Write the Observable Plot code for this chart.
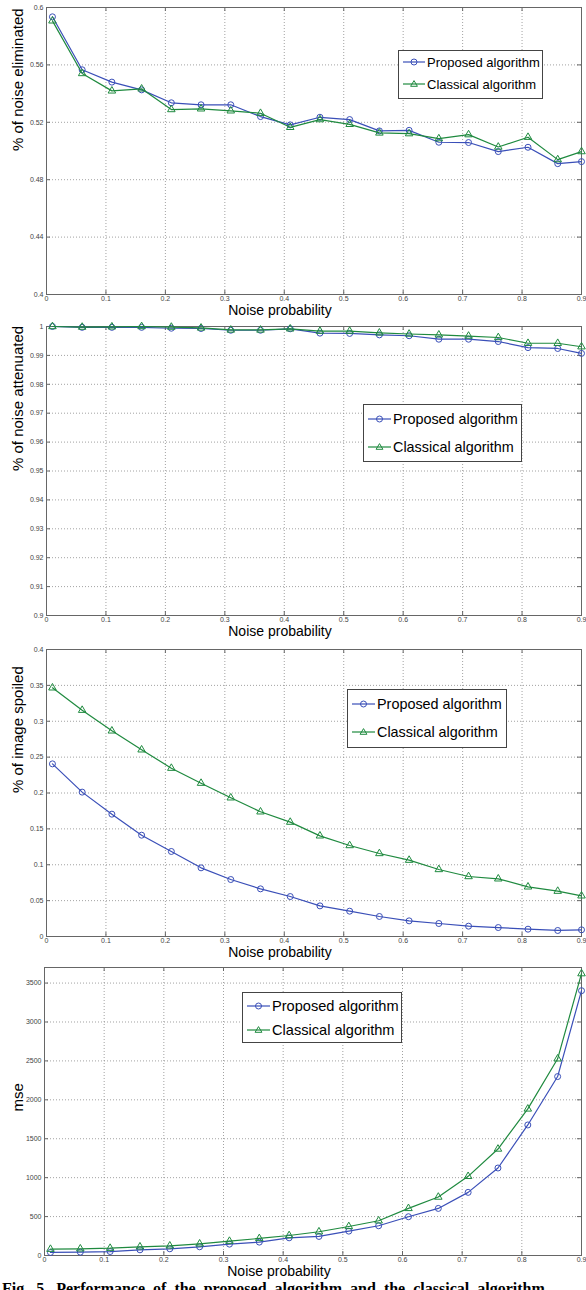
<!DOCTYPE html>
<html>
<head>
<meta charset="utf-8">
<script src="https://cdn.jsdelivr.net/npm/d3@7"></script>
<script src="https://cdn.jsdelivr.net/npm/@observablehq/plot@0.6"></script>
<style>
  html, body { margin: 0; padding: 0; background: #fff; }
  #wrap { position: relative; width: 586px; height: 1290px; overflow: hidden; font-family: "Liberation Sans", Arial, sans-serif; }
  .panel { position: absolute; left: 0; }
  .legend { position: absolute; background: #fff; border: 1px solid #444; box-sizing: border-box; }
  .legend .row { position: absolute; left: 0; display: flex; align-items: center; white-space: nowrap; color: #000; }
  .legend svg { display: block; }
  #caption { position: absolute; left: 2px; top: 1280px; width: 582px; white-space: nowrap; overflow: hidden; font-family: "Liberation Serif", "Times New Roman", serif; font-weight: bold; font-size: 16px; word-spacing: 4px; line-height: 18px; }
</style>
</head>
<body>
<div id="wrap"></div>
<script>
// ---- data ----
const noiseProb = [0.01,0.06,0.11,0.16,0.21,0.26,0.31,0.36,0.41,0.46,0.51,0.56,0.61,0.66,0.71,0.76,0.81,0.86,0.9];
const xTicks = [0,0.1,0.2,0.3,0.4,0.5,0.6,0.7,0.8,0.9];
const seriesNames = ["Proposed algorithm", "Classical algorithm"];

const elimProposed  = [0.5935,0.5566,0.5480,0.5426,0.5336,0.5322,0.5322,0.5240,0.5182,0.5235,0.5219,0.5140,0.5144,0.5061,0.5059,0.4996,0.5026,0.4912,0.4926];
const elimClassical = [0.5907,0.5540,0.5419,0.5433,0.5289,0.5294,0.5280,0.5263,0.5165,0.5219,0.5186,0.5126,0.5121,0.5086,0.5114,0.5028,0.5096,0.4940,0.4996];
const elimTicks = [0.4,0.44,0.48,0.52,0.56,0.6];

const attProposed  = [1.0000,0.9997,0.9997,0.9997,0.9994,0.9993,0.9987,0.9987,0.9992,0.9977,0.9976,0.9971,0.9968,0.9956,0.9956,0.9948,0.9927,0.9924,0.9907];
const attClassical = [1.0000,0.9998,0.9999,1.0000,0.9998,0.9995,0.9988,0.9988,0.9992,0.9984,0.9984,0.9978,0.9974,0.9971,0.9967,0.9962,0.9942,0.9942,0.9930];
const attTicks = [0.9,0.91,0.92,0.93,0.94,0.95,0.96,0.97,0.98,0.99,1];

const spoilProposed  = [0.2406,0.2012,0.1705,0.1412,0.1185,0.0957,0.0794,0.0664,0.0557,0.0427,0.0353,0.0279,0.0218,0.0181,0.0144,0.0125,0.0102,0.0084,0.0093];
const spoilClassical = [0.3466,0.3154,0.2866,0.2602,0.2346,0.2137,0.1933,0.1738,0.1594,0.1403,0.1268,0.1157,0.1064,0.0934,0.0836,0.0804,0.0692,0.0632,0.0567];
const spoilTicks = [0,0.05,0.1,0.15,0.2,0.25,0.3,0.35,0.4];

const mseProposed  = [39,43,51,73,86,112,146,172,227,245,313,382,498,605,811,1124,1677,2299,3402];
const mseClassical = [81,86,94,112,124,150,184,219,257,305,373,446,605,751,1017,1368,1883,2527,3621];
const mseTicks = [0,500,1000,1500,2000,2500,3000,3500];

// ---- styling ----
const BLUE = "#3a4fb8";
const GREEN = "#1f8a3f";
const W = 586, H = 320;

function panel(cfg) {
  const {top, yDomain, yTicks, yLabel, proposed, classical, mt, mb, ml, legend} = cfg;
  const mr = 5;
  const innerH = H - mt - mb, innerW = W - ml - mr;
  const pRows = noiseProb.map((x, i) => ({x, y: proposed[i]}));
  const cRows = noiseProb.map((x, i) => ({x, y: classical[i]}));
  const grid = {stroke: "#8a8a8a", strokeOpacity: 1, strokeWidth: 0.8, strokeDasharray: "1,2"};
  const chart = Plot.plot({
    width: W, height: H,
    marginLeft: ml, marginRight: mr, marginTop: mt, marginBottom: mb,
    style: {fontFamily: "'Liberation Sans', Arial, sans-serif", background: "transparent", overflow: "visible"},
    x: {domain: [0, 0.9]},
    y: {domain: yDomain},
    marks: [
      Plot.gridX(xTicks, grid),
      Plot.gridY(yTicks, grid),
      // inward tick marks on all four sides
      Plot.ruleX(xTicks, {x: d => d, insetTop: innerH - 4, stroke: "#666"}),
      Plot.ruleX(xTicks, {x: d => d, insetBottom: innerH - 4, stroke: "#666"}),
      Plot.ruleY(yTicks, {y: d => d, insetRight: innerW - 4, stroke: "#666"}),
      Plot.ruleY(yTicks, {y: d => d, insetLeft: innerW - 4, stroke: "#666"}),
      Plot.frame({stroke: "#666"}),
      Plot.axisX(xTicks, {tickSize: 0, tickPadding: 2, fontSize: 7, fill: "#444", tickFormat: d => String(d), label: null}),
      Plot.axisY(yTicks, {tickSize: 0, tickPadding: 3, fontSize: 7, fill: "#444", tickFormat: d => String(d), label: null}),
      Plot.line(pRows, {x: "x", y: "y", stroke: BLUE, strokeWidth: 1.2}),
      Plot.dot(pRows, {x: "x", y: "y", r: 3, stroke: BLUE, fill: "none", strokeWidth: 1}),
      Plot.line(cRows, {x: "x", y: "y", stroke: GREEN, strokeWidth: 1.2}),
      Plot.dot(cRows, {x: "x", y: "y", r: 2.8, symbol: "triangle", stroke: GREEN, fill: "none", strokeWidth: 1}),
      Plot.text([yLabel], {frameAnchor: "left", dx: ml === 46 ? -28 : -26, rotate: -90, fontSize: 15, fill: "#000"}),
      Plot.text(["Noise probability"], {frameAnchor: "bottom", dx: -34, dy: 20, fontSize: 14, fill: "#000"})
    ]
  });
  const holder = document.createElement("div");
  holder.className = "panel";
  holder.style.top = top + "px";
  holder.appendChild(chart);
  document.getElementById("wrap").appendChild(holder);

  // legend box
  const lg = document.createElement("div");
  lg.className = "legend";
  Object.assign(lg.style, {left: legend.x + "px", top: legend.y + "px", width: legend.w + "px", height: legend.h + "px"});
  seriesNames.forEach((name, i) => {
    const row = document.createElement("div");
    row.className = "row";
    row.style.top = (legend.rows[i] - legend.y - 1 - 10) + "px";
    row.style.height = "20px";
    row.style.fontSize = legend.fs + "px";
    const color = i === 0 ? BLUE : GREEN;
    const sw = legend.sw;
    const sym = i === 0
      ? `<circle cx="${sw/2}" cy="10" r="3" fill="none" stroke="${color}"/>`
      : `<path d="M${sw/2},6.6L${sw/2+3.4},12.3L${sw/2-3.4},12.3Z" fill="none" stroke="${color}"/>`;
    row.innerHTML = `<svg width="${sw}" height="20" style="margin-left:4px;margin-right:2px"><line x1="0" x2="${sw}" y1="10" y2="10" stroke="${color}" stroke-width="1.2"/>${sym}</svg><span>${name}</span>`;
    lg.appendChild(row);
  });
  document.getElementById("wrap").appendChild(lg);
}

panel({top: 0, yDomain: [0.4, 0.6], yTicks: elimTicks, yLabel: "% of noise eliminated",
  proposed: elimProposed, classical: elimClassical, mt: 7, mb: 26, ml: 46,
  legend: {x: 398, y: 50, w: 145, h: 49, rows: [62, 84], fs: 13, sw: 22}});
panel({top: 320, yDomain: [0.9, 1], yTicks: attTicks, yLabel: "% of noise attenuated",
  proposed: attProposed, classical: attClassical, mt: 6, mb: 25, ml: 46,
  legend: {x: 363, y: 404, w: 159, h: 58, rows: [419, 447], fs: 14.4, sw: 23}});
panel({top: 640, yDomain: [0, 0.4], yTicks: spoilTicks, yLabel: "% of image spoiled",
  proposed: spoilProposed, classical: spoilClassical, mt: 9, mb: 24, ml: 46,
  legend: {x: 347, y: 689, w: 160, h: 59, rows: [704, 732], fs: 14.4, sw: 23}});
panel({top: 960, yDomain: [0, 3700], yTicks: mseTicks, yLabel: "mse",
  proposed: mseProposed, classical: mseClassical, mt: 7, mb: 25, ml: 44,
  legend: {x: 242, y: 992, w: 160, h: 51, rows: [1006, 1030], fs: 14.6, sw: 23}});

const cap = document.createElement("div");
cap.id = "caption";
cap.textContent = "Fig. 5. Performance of the proposed algorithm and the classical algorithm";
document.getElementById("wrap").appendChild(cap);
</script>
</body>
</html>
